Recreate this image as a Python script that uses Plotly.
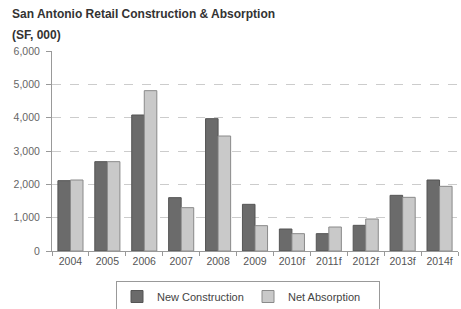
import plotly.graph_objects as go

years = ["2004", "2005", "2006", "2007", "2008", "2009", "2010f", "2011f", "2012f", "2013f", "2014f"]
new_construction = [2110, 2680, 4080, 1600, 3970, 1400, 660, 520, 770, 1670, 2130]
net_absorption = [2130, 2680, 4810, 1300, 3450, 760, 520, 720, 960, 1610, 1940]
y_ticks = [0, 1000, 2000, 3000, 4000, 5000, 6000]
y_tick_labels = ["0", "1,000", "2,000", "3,000", "4,000", "5,000", "6,000"]

FONT = "Liberation Sans, Arial, sans-serif"
W, H = 461, 309
ML, MR, MT, MB = 52, 3, 51, 58
pw = W - ML - MR
ph = H - MT - MB

fig = go.Figure()
fig.add_trace(go.Bar(name="New Construction", x=years, y=new_construction,
                     marker=dict(color="#6b6b6b", line=dict(color="#555555", width=1))))
fig.add_trace(go.Bar(name="Net Absorption", x=years, y=net_absorption,
                     marker=dict(color="#c9c9c9", line=dict(color="#8a8a8a", width=1))))

fig.update_layout(
    width=W, height=H,
    margin=dict(l=ML, r=MR, t=MT, b=MB, autoexpand=False),
    paper_bgcolor="white", plot_bgcolor="white",
    barmode="group", bargap=0.32, bargroupgap=0,
    font=dict(family=FONT, color="#555555", size=10),
    showlegend=True,
    legend=dict(orientation="h", x=(248 - ML) / pw, xanchor="center", y=-(281 - 251) / ph, yanchor="top",
                bordercolor="#999999", borderwidth=1, font=dict(size=11, color="#444444"),
                itemwidth=30, tracegroupgap=0, entrywidth=86),
    xaxis=dict(type="category", showline=True, linecolor="#999999", linewidth=1,
               ticks="outside", tickson="boundaries", ticklen=4, tickcolor="#999999",
               tickangle=0, tickfont=dict(size=10.5, color="#555555"), showgrid=False),
    yaxis=dict(range=[0, 6000], tickvals=y_ticks, ticktext=y_tick_labels,
               showline=True, linecolor="#999999", linewidth=1,
               ticks="outside", ticklen=5, tickcolor="#999999", ticklabelstandoff=4,
               tickfont=dict(size=10.5, color="#666666"),
               showgrid=True, gridcolor="#cccccc", griddash="dash", gridwidth=1,
               zeroline=False),
)

fig.add_annotation(text="<b>San Antonio Retail Construction &amp; Absorption</b>", xref="paper", yref="paper",
                   x=(10 - ML) / pw, y=1 + (MT - 5) / ph, xanchor="left", yanchor="top", showarrow=False,
                   font=dict(size=12, color="#333333", family=FONT))
fig.add_annotation(text="<b>(SF, 000)</b>", xref="paper", yref="paper",
                   x=(10 - ML) / pw, y=1 + (MT - 26) / ph, xanchor="left", yanchor="top", showarrow=False,
                   font=dict(size=12, color="#333333", family=FONT))

fig.write_html("out.html", config={"displayModeBar": False},
               post_script="document.body.style.margin='0';document.body.style.overflow='hidden';")
